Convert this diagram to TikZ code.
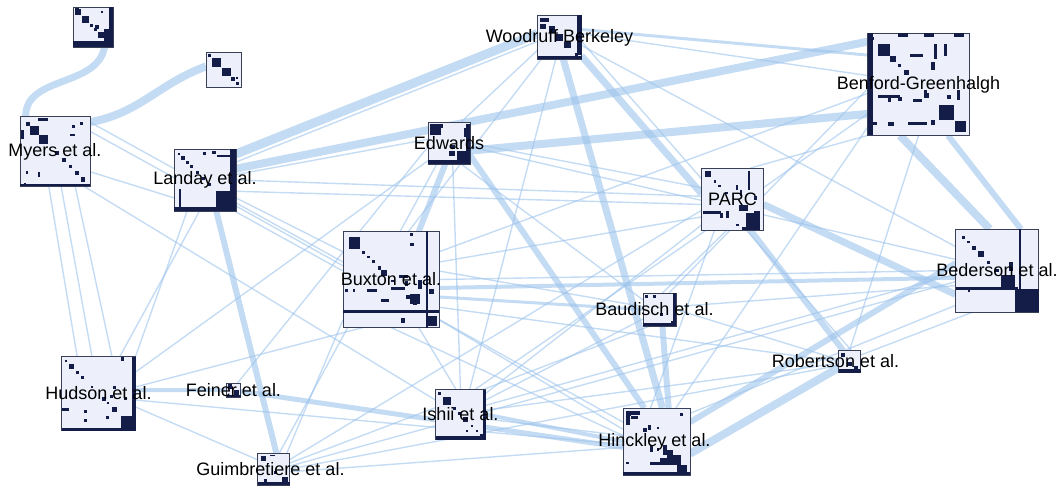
\documentclass[tikz,border=0pt]{standalone}
\usepackage{fontspec}
\newfontfamily\labelfont{Liberation Sans}
\usetikzlibrary{calc,backgrounds}

\definecolor{matfill}{HTML}{EDF0FB}
\definecolor{cellblue}{HTML}{141C48}
\definecolor{matline}{HTML}{3A3F58}
\definecolor{linkblue}{HTML}{9DC3EC}

\tikzset{
  mat/.style={draw=matline, fill=matfill, line width=0.8pt, inner sep=0pt, outer sep=0pt},
  cell/.style={fill=cellblue},
  link/.style={draw=linkblue, draw opacity=0.6},
  lbl/.style={font=\labelfont\fontsize{18}{20}\selectfont, inner sep=0pt, text=black},
}

% matrix node: name, x, y, size, diagonal blocks s/e, cells u/v/w/h
\newcommand{\matnode}[6]{%
  \begin{scope}[shift={(#2-#4/2,#3-#4/2)}, x=#4pt, y=-#4pt]
    \node[mat, minimum size=#4pt] (#1) at (0.5,0.5) {};
    \foreach \s/\e in {#5}
      \fill[cell] (\s,\s) rectangle (\e,\e);
    \foreach \u/\v/\cw/\ch in {#6}
      \fill[cell] (\u,\v) rectangle ++(\cw,\ch);
  \end{scope}
}

\begin{document}
\begin{tikzpicture}[x=1pt, y=-1pt]
\useasboundingbox (0,0) rectangle (1060,489);

% Matrices
\matnode{m0}{93}{27}{40}{0.05/0.2, 0.22/0.4, 0.42/0.5, 0.52/0.6, 0.62/0.78, 0.78/0.97}
  {0.05/0.02/0.1/0.05, 0.7/0.1/0.05/0.05, 0.55/0.45/0.1/0.1, 0.0/0.86/1/0.14, 0.78/0.55/0.22/0.35, 0.9/0.0/0.1/1}
\matnode{m1}{223.5}{69.5}{35}{0.05/0.15, 0.18/0.42, 0.45/0.7, 0.72/0.82, 0.85/0.95}
  {0.85/0.72/0.06/0.06}
\matnode{myers}{55}{151.5}{70}{0.08/0.14, 0.14/0.27, 0.27/0.4, 0.5/0.55, 0.6/0.65, 0.7/0.74, 0.78/0.84, 0.87/0.93}
  {0.25/0.02/0.15/0.04, 0.74/0.12/0.04/0.04, 0.86/0.08/0.04/0.04, 0.72/0.25/0.06/0.03, 0.08/0.78/0.04/0.04,
   0.25/0.8/0.03/0.06, 0.02/0.2/0.03/0.12, 0.05/0.95/0.03/0.03, 0.0/0.97/1/0.03}
\matnode{landay}{205}{180}{62}{0.06/0.1, 0.12/0.17, 0.19/0.24, 0.26/0.31, 0.35/0.4, 0.45/0.5, 0.55/0.6, 0.68/0.96}
  {0.46/0.05/0.05/0.05, 0.62/0.04/0.05/0.04, 0.7/0.1/0.25/0.03, 0.9/0.0/0.1/1, 0.08/0.65/0.04/0.3, 0.0/0.93/1/0.07}
\matnode{woodruff}{559.5}{37.5}{44}{0.05/0.15, 0.25/0.4, 0.42/0.58, 0.6/0.75, 0.85/0.92}
  {0.15/0.05/0.1/0.1, 0.05/0.2/0.15/0.1, 0.9/0.0/0.1/0.9, 0.0/0.92/1/0.08, 0.8/0.95/0.1/0.05}
\matnode{edwards}{449}{143}{42}{0.05/0.3, 0.55/0.65, 0.7/0.9}
  {0.1/0.05/0.25/0.1, 0.85/0.15/0.05/0.2, 0.5/0.7/0.15/0.1, 0.0/0.9/1/0.1, 0.9/0.05/0.1/0.9}
\matnode{parc}{732.5}{199}{62}{0.05/0.15, 0.2/0.24, 0.27/0.31, 0.38/0.42, 0.72/0.95}
  {0.55/0.28/0.04/0.08, 0.62/0.35/0.04/0.1, 0.75/0.05/0.04/0.3, 0.02/0.7/0.3/0.04, 0.3/0.72/0.04/0.08,
   0.4/0.7/0.04/0.1, 0.6/0.6/0.15/0.1, 0.85/0.45/0.04/0.06, 0.55/0.9/0.06/0.04, 0.65/0.95/0.3/0.05, 0.85/0.7/0.1/0.2}
\matnode{benford}{918.5}{84.5}{102}{0.03/0.06, 0.1/0.22, 0.22/0.28, 0.3/0.33, 0.36/0.41, 0.55/0.58, 0.7/0.85, 0.86/0.97}
  {0.3/0.0/0.1/0.03, 0.55/0.0/0.1/0.03, 0.85/0.0/0.1/0.03, 0.0/0.0/0.05/1, 0.65/0.1/0.03/0.15, 0.42/0.2/0.12/0.03,
   0.75/0.1/0.03/0.12, 0.62/0.28/0.04/0.08, 0.1/0.6/0.22/0.03, 0.2/0.62/0.03/0.05, 0.45/0.64/0.08/0.03,
   0.55/0.58/0.05/0.05, 0.05/0.87/0.04/0.03, 0.2/0.87/0.06/0.04, 0.4/0.87/0.18/0.03, 0.62/0.85/0.04/0.05,
   0.88/0.55/0.03/0.1, 0.3/0.62/0.04/0.04, 0.78/0.6/0.04/0.04}
\matnode{bederson}{997}{270.5}{83}{0.08/0.12, 0.14/0.17, 0.2/0.25, 0.27/0.34, 0.38/0.42, 0.48/0.52, 0.55/0.72, 0.72/0.98}
  {0.76/0.0/0.03/0.72, 0.0/0.7/0.75/0.03, 0.15/0.73/0.03/0.03, 0.65/0.4/0.04/0.1, 0.72/0.72/0.28/0.28}
\matnode{buxton}{391}{279.5}{96}{0.06/0.18, 0.2/0.23, 0.25/0.28, 0.3/0.33, 0.36/0.4, 0.4/0.46, 0.5/0.53, 0.58/0.6, 0.66/0.7, 0.73/0.77, 0.88/0.98}
  {0.0/0.82/1/0.03, 0.86/0.0/0.03/1, 0.7/0.02/0.03/0.03, 0.7/0.12/0.04/0.03, 0.02/0.6/0.03/0.03, 0.1/0.6/0.03/0.03,
   0.25/0.6/0.1/0.03, 0.5/0.58/0.15/0.03, 0.58/0.45/0.1/0.03, 0.65/0.52/0.03/0.05, 0.78/0.5/0.04/0.1,
   0.7/0.65/0.1/0.1, 0.9/0.6/0.05/0.05, 0.6/0.9/0.05/0.05, 0.4/0.7/0.08/0.03}
\matnode{baudisch}{659.5}{309.5}{33}{0.05/0.15, 0.85/0.95}
  {0.3/0.05/0.1/0.1, 0.0/0.9/1/0.1, 0.92/0.0/0.08/1, 0.5/0.6/0.1/0.1}
\matnode{robertson}{849.5}{361.5}{22}{0.1/0.3, 0.7/0.9}
  {0.0/0.85/1/0.15, 0.4/0.5/0.2/0.2}
\matnode{hinckley}{656.5}{441.5}{67}{0.05/0.12, 0.85/0.95}
  {0.05/0.05/0.2/0.05, 0.05/0.1/0.05/0.15, 0.12/0.12/0.1/0.05, 0.3/0.3/0.06/0.06, 0.38/0.25/0.04/0.08,
   0.5/0.28/0.04/0.04, 0.4/0.55/0.05/0.1, 0.5/0.6/0.04/0.04, 0.6/0.55/0.05/0.15, 0.65/0.62/0.1/0.2,
   0.72/0.7/0.15/0.15, 0.4/0.8/0.15/0.05, 0.55/0.75/0.2/0.1, 0.8/0.85/0.1/0.1, 0.0/0.95/1/0.05,
   0.05/0.8/0.04/0.04, 0.85/0.08/0.04/0.04}
\matnode{hudson}{98.5}{393.5}{74}{0.05/0.08, 0.1/0.17, 0.2/0.24, 0.27/0.31, 0.4/0.43, 0.55/0.6, 0.62/0.64, 0.68/0.75, 0.8/0.98}
  {0.8/0.0/0.04/0.06, 0.95/0.0/0.05/1, 0.0/0.96/1/0.04, 0.0/0.7/0.1/0.04, 0.3/0.72/0.05/0.04, 0.65/0.52/0.04/0.04,
   0.7/0.4/0.04/0.04, 0.85/0.55/0.04/0.04, 0.3/0.85/0.04/0.04, 0.6/0.8/0.04/0.04}
\matnode{feiner}{233.5}{390}{14}{0.1/0.4, 0.5/0.9}
  {0.0/0.85/1/0.15}
\matnode{ishii}{460.5}{414.5}{50}{0.05/0.1, 0.15/0.3, 0.35/0.4, 0.45/0.5, 0.55/0.65, 0.7/0.75, 0.8/0.85, 0.88/0.95}
  {0.95/0.0/0.05/1, 0.0/0.92/1/0.08, 0.6/0.8/0.04/0.04}
\matnode{guimbretiere}{273.5}{469}{32}{0.1/0.25, 0.3/0.35, 0.75/0.95}
  {0.4/0.05/0.15/0.05, 0.5/0.55/0.1/0.1, 0.0/0.9/1/0.1, 0.2/0.8/0.1/0.1}

% Labels
\node[lbl] (myersl) at (myers) {Myers et al.};
\node[lbl] (landayl) at (landay) {Landay et al.};
\node[lbl] (woodruffl) at (woodruff) {Woodruff Berkeley};
\node[lbl] (edwardsl) at (edwards) {Edwards};
\node[lbl] (parcl) at (parc) {PARC};
\node[lbl] (benfordl) at (benford) {Benford-Greenhalgh};
\node[lbl] (bedersonl) at (bederson) {Bederson et al.};
\node[lbl] (buxtonl) at (buxton) {Buxton et al.};
\node[lbl] (baudischl) at ([xshift=-5pt]baudisch.center) {Baudisch et al.};
\node[lbl] (robertsonl) at ([xshift=-14pt]robertson.center) {Robertson et al.};
\node[lbl] (hinckleyl) at ([xshift=-2pt]hinckley.center) {Hinckley et al.};
\node[lbl] (hudsonl) at (hudson) {Hudson et al.};
\node[lbl] (feinerl) at (feiner) {Feiner et al.};
\node[lbl] (ishiil) at (ishii) {Ishii et al.};
\node[lbl] (guimbretierel) at ([xshift=-3pt]guimbretiere.center) {Guimbretiere et al.};

% Links
\begin{scope}[on background layer]
\draw[link, line width=7pt] (m0.-60) to[out=-100, in=90] (myers.130);
\draw[link, line width=8pt] (m1.170) to[out=200, in=10] (myers.40);
\foreach \a/\b/\w in {
  landay.40/woodruff.170/9, landay.20/benford.140/8, edwards.-20/benford.-150/8,
  woodruff.-40/parc.170/7, woodruff.-80/hinckley.80/7, benford.-110/bederson.100/8,
  benford.-60/bederson.60/6, parc.-10/bederson.-150/7, parc.-60/robertson.120/6,
  robertson.-150/hinckley.-20/8, landay.-70/guimbretiere.80/6, feiner.-10/hinckley.-170/5,
  bederson.170/hinckley.30/6, baudisch.-80/hinckley.70/6, edwards.-100/buxton.60/6,
  edwards.-30/hinckley.110/6, hudson.5/feiner.180/4, ishii.0/hinckley.180/4,
  buxton.-10/bederson.-170/4, buxton.-20/baudisch.180/3, woodruff.20/benford.150/3}
  \draw[link, line width=\w pt] (\a) -- (\b);
\foreach \a/\b in {
  myers.-30/landay.-150, myers.40/buxton.160, myers.30/buxton.170, myers.-80/hudson.100,
  myers.-100/hudson.120, myers.-60/hudson.70, myers.-50/ishii.150, landay.-100/hudson.60,
  landay.-120/hudson.45, landay.10/edwards.170, landay.0/parc.175, landay.-20/parc.-170,
  landay.-30/buxton.150, landay.-40/hinckley.150, landay.30/woodruff.-170,
  woodruff.-150/edwards.60, woodruff.-130/buxton.70, woodruff.-100/ishii.70,
  woodruff.-20/bederson.150, woodruff.-10/robertson.80, woodruff.10/benford.170,
  edwards.0/parc.160, edwards.-10/bederson.165, edwards.-60/baudisch.150,
  edwards.-120/guimbretiere.70, edwards.-140/hudson.30, edwards.-80/ishii.90,
  edwards.-170/feiner.60, parc.-120/hinckley.100, parc.-100/baudisch.80,
  parc.-150/buxton.20, parc.-140/ishii.40, parc.20/benford.-150, parc.60/benford.-135,
  benford.-170/buxton.30, benford.-140/hinckley.60, benford.-90/robertson.90,
  benford.-175/baudisch.60, bederson.180/buxton.0, bederson.-160/baudisch.10,
  bederson.-120/robertson.30, bederson.-175/ishii.20, bederson.-140/hinckley.40,
  buxton.-40/hinckley.160, buxton.-60/ishii.100, buxton.-120/hudson.10,
  buxton.-140/guimbretiere.50, buxton.-90/hinckley.170, buxton.10/baudisch.170,
  baudisch.0/robertson.170, baudisch.-150/ishii.30, baudisch.-120/guimbretiere.20,
  robertson.180/buxton.-30, robertson.-170/ishii.10, robertson.-160/guimbretiere.0,
  hinckley.-170/guimbretiere.-10, hinckley.-175/hudson.-10, hinckley.170/ishii.-10,
  hudson.-20/guimbretiere.150, guimbretiere.30/parc.-160, guimbretiere.10/bederson.-165,
  ishii.60/parc.-130}
  \draw[link, line width=1.4pt] (\a) -- (\b);
\end{scope}
\end{tikzpicture}
\end{document}
